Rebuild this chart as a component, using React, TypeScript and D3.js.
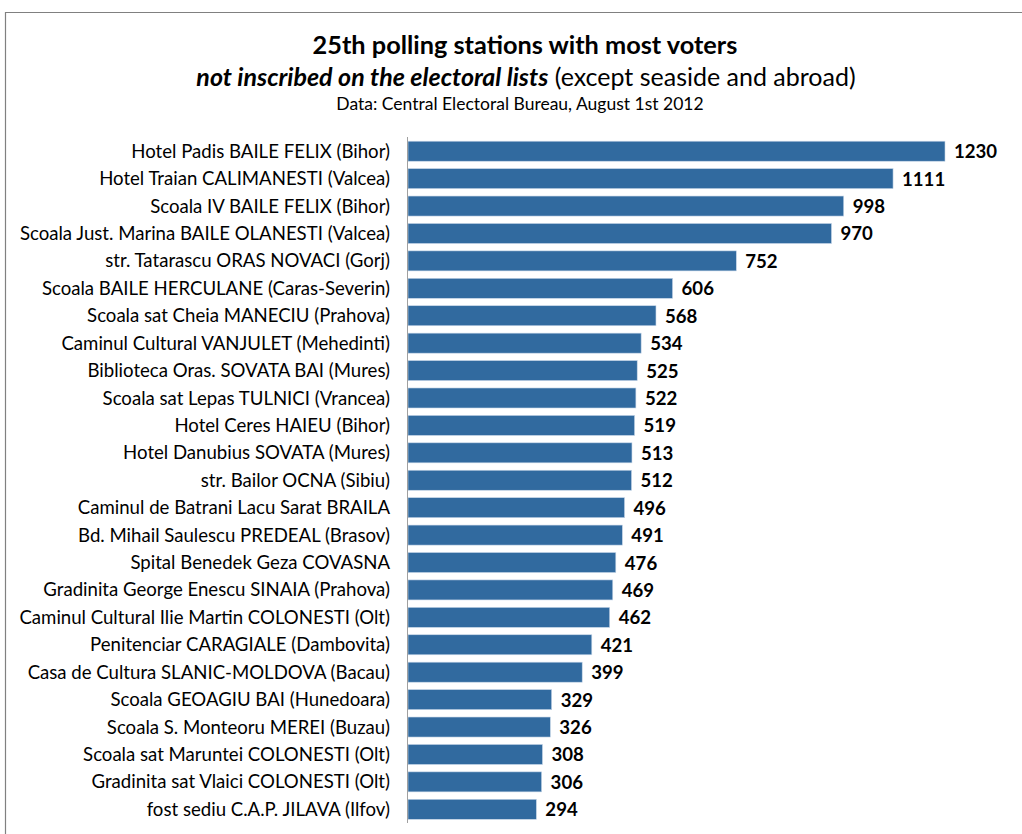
import React from "react";
import * as d3 from "d3";

const stations: string[] = [
  "Hotel Padis BAILE FELIX (Bihor)",
  "Hotel Traian CALIMANESTI (Valcea)",
  "Scoala IV BAILE FELIX (Bihor)",
  "Scoala Just. Marina BAILE OLANESTI (Valcea)",
  "str. Tatarascu ORAS NOVACI (Gorj)",
  "Scoala BAILE HERCULANE (Caras-Severin)",
  "Scoala sat Cheia MANECIU (Prahova)",
  "Caminul Cultural VANJULET (Mehedinti)",
  "Biblioteca Oras. SOVATA BAI (Mures)",
  "Scoala sat Lepas TULNICI (Vrancea)",
  "Hotel Ceres HAIEU (Bihor)",
  "Hotel Danubius SOVATA (Mures)",
  "str. Bailor OCNA (Sibiu)",
  "Caminul de Batrani Lacu Sarat BRAILA",
  "Bd. Mihail Saulescu PREDEAL (Brasov)",
  "Spital Benedek Geza COVASNA",
  "Gradinita George Enescu SINAIA (Prahova)",
  "Caminul Cultural Ilie Martin COLONESTI (Olt)",
  "Penitenciar CARAGIALE (Dambovita)",
  "Casa de Cultura SLANIC-MOLDOVA (Bacau)",
  "Scoala GEOAGIU BAI (Hunedoara)",
  "Scoala S. Monteoru MEREI (Buzau)",
  "Scoala sat Maruntei COLONESTI (Olt)",
  "Gradinita sat Vlaici COLONESTI (Olt)",
  "fost sediu C.A.P. JILAVA (Ilfov)",
];

const voters: number[] = [
  1230, 1111, 998, 970, 752, 606, 568, 534, 525, 522, 519, 513, 512, 496,
  491, 476, 469, 462, 421, 399, 329, 326, 308, 306, 294,
];

const titleLine1 = "25th polling stations with most voters";
const titleLine2a = "not inscribed on the electoral lists";
const titleLine2b = " (except seaside and abroad)";
const titleLine3 = "Data: Central Electoral Bureau, August 1st 2012";

const W = 1022;
const H = 834;
const FONT = "Lato, 'Open Sans', sans-serif";

export default function App() {
  const x = d3.scaleLinear().domain([0, 1230]).range([408, 945]);
  const y = d3
    .scaleBand<string>()
    .domain(stations)
    .range([137.5, 823])
    .paddingInner(0.27)
    .paddingOuter(0.135);

  return (
    <svg
      width={W}
      height={H}
      style={{ position: "absolute", left: 0, top: 0, background: "#fff" }}
      fontFamily={FONT}
    >
      <rect x={0} y={0} width={W} height={H} fill="#fff" />
      <path d={`M5.5,${H} V12.5 H${W}`} fill="none" stroke="#808080" strokeWidth={1.2} />

      <text x={525} y={54} textAnchor="middle" fontSize={25.3} fontWeight="bold" fill="#000">
        {titleLine1}
      </text>
      <text x={526} y={86} textAnchor="middle" fontSize={25} fill="#000">
        <tspan fontWeight="bold" fontStyle="italic">{titleLine2a}</tspan>
        <tspan>{titleLine2b}</tspan>
      </text>
      <text x={520} y={110} textAnchor="middle" fontSize={17.5} fill="#000">
        {titleLine3}
      </text>

      {stations.map((s, i) => {
        const yy = y(s)!;
        const bw = y.bandwidth();
        return (
          <g key={s}>
            <rect
              x={x(0)}
              y={yy}
              width={x(voters[i]) - x(0)}
              height={bw}
              fill="#316A9F"
              stroke="#c6d6e8"
              strokeWidth={0.6}
            />
            <text
              x={390}
              y={yy + bw / 2}
              dy="0.35em"
              textAnchor="end"
              fontSize={18.6}
              fill="#000"
            >
              {s}
            </text>
            <text
              x={x(voters[i]) + 9}
              y={yy + bw / 2 + 0.5}
              dy="0.35em"
              fontSize={18.6}
              fontWeight="bold"
              fill="#000"
            >
              {voters[i]}
            </text>
          </g>
        );
      })}

      <line x1={x(0) - 0.5} x2={x(0) - 0.5} y1={137} y2={823} stroke="#a0a0a0" strokeWidth={1} />
    </svg>
  );
}
